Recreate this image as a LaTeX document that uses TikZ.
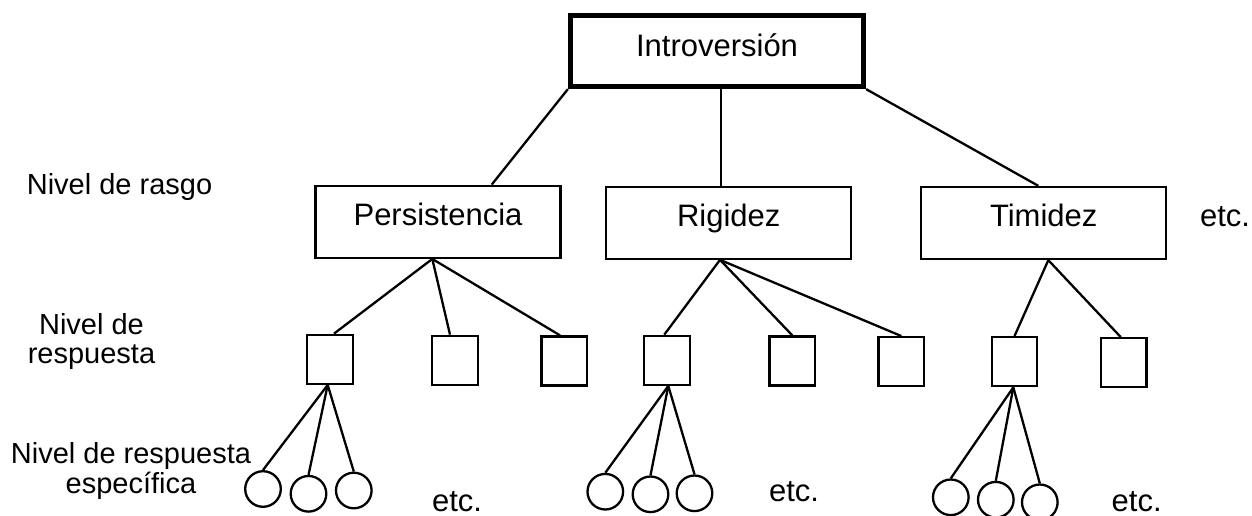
\documentclass[tikz,border=0pt]{standalone}
\usepackage{fontspec}
\setmainfont{Liberation Sans}
\begin{document}
\begin{tikzpicture}[x=1pt,y=-1pt, line width=2.3pt,
  topbox/.style={draw, rectangle, line width=5.5pt, inner sep=0pt, minimum width=292.8pt, minimum height=70.8pt, font=\fontsize{31}{36}\selectfont, text height=22.2pt, text depth=11pt},
  box/.style={draw, rectangle, inner sep=0pt, minimum width=245pt, minimum height=72pt, font=\fontsize{31}{36}\selectfont, text height=22.2pt, text depth=15pt},
  sq/.style={draw, rectangle, inner sep=0pt, minimum width=45.5pt, minimum height=49pt},
  circ/.style={draw, circle, inner sep=0pt, minimum size=35.6pt},
  lbl/.style={font=\fontsize{29}{29.5}\selectfont, align=center, inner sep=0pt},
  etcs/.style={font=\fontsize{31}{36}\selectfont, inner sep=0pt, anchor=base}]
\useasboundingbox (0,0) rectangle (1252,516);

% top and trait level
\node[topbox] (T) at (717,51) {Introversión};
\node[box] (P) at (438,221.8) {Persistencia};
\node[box] (R) at (728.7,222.7) {Rigidez};
\node[box] (Ti) at (1043.7,223) {Timidez};
\node[etcs] (e4) at (1225,226.7) {etc.};

% response level
\node[sq] (p1) at (330,359.3) {};
\node[sq] (p2) at (455,360.3) {};
\node[sq] (p3) at (564.3,361) {};
\node[sq] (r1) at (667,360.3) {};
\node[sq] (r2) at (792.3,361) {};
\node[sq] (r3) at (901.3,361.7) {};
\node[sq] (t1) at (1014.5,361.7) {};
\node[sq] (t2) at (1123.7,362.7) {};

% specific responses
\node[circ] (pc1) at (263,489) {};
\node[circ] (pc2) at (308.5,493.8) {};
\node[circ] (pc3) at (353.8,490.5) {};
\node[circ] (rc1) at (605.3,491.7) {};
\node[circ] (rc2) at (650.5,494.3) {};
\node[circ] (rc3) at (694.5,493.3) {};
\node[circ] (tc1) at (950.8,497.3) {};
\node[circ] (tc2) at (995.8,499.7) {};
\node[circ] (tc3) at (1039.8,502.3) {};
\node[etcs] (e1) at (457,511.7) {etc.};
\node[etcs] (e2) at (794,501) {etc.};
\node[etcs] (e3) at (1136.7,511.7) {etc.};

% level labels (base = baseline of the last line)
\node[lbl, anchor=base] (L1) at (119.5,194) {Nivel de rasgo};
\node[lbl, anchor=base] (L2) at (91.5,363.5) {Nivel de\\respuesta};
\node[lbl, anchor=base] (L3) at (131,493) {Nivel de respuesta\\específica};

% connectors: top to traits
\draw (T.south west) -- ([xshift=53.7pt]P.north);
\draw ([xshift=-8pt]R.north |- T.south) -- ([xshift=-8pt]R.north);
\draw (T.south east) -- ([xshift=-5.4pt]Ti.north);

% traits to responses
\coordinate (pf) at ([xshift=-5.7pt]P.south);
\draw (pf) -- ([xshift=4pt]p1.north);
\draw (pf) -- ([xshift=-5pt]p2.north);
\draw (pf) -- ([xshift=-4.3pt]p3.north);
\coordinate (rf) at ([xshift=-8.7pt]R.south);
\draw (rf) -- ([xshift=-2.7pt]r1.north);
\draw (rf) -- (r2.north);
\draw (rf) -- (r3.north);
\coordinate (tf) at ([xshift=4.6pt]Ti.south);
\draw (tf) -- (t1.north);
\draw (tf) -- ([xshift=-3pt]t2.north);

% responses to specific responses
\coordinate (p1b) at ([xshift=-2.3pt]p1.south);
\draw (p1b) -- (pc1.north);
\draw (p1b) -- (pc2.north);
\draw (p1b) -- (pc3.north);
\coordinate (r1b) at ([xshift=1.3pt]r1.south);
\draw (r1b) -- (rc1.north);
\draw (r1b) -- (rc2.north);
\draw (r1b) -- (rc3.north);
\coordinate (t1b) at ([xshift=-1.2pt]t1.south);
\draw (t1b) -- (tc1.north);
\draw (t1b) -- (tc2.north);
\draw (t1b) -- (tc3.north);
\end{tikzpicture}
\end{document}
